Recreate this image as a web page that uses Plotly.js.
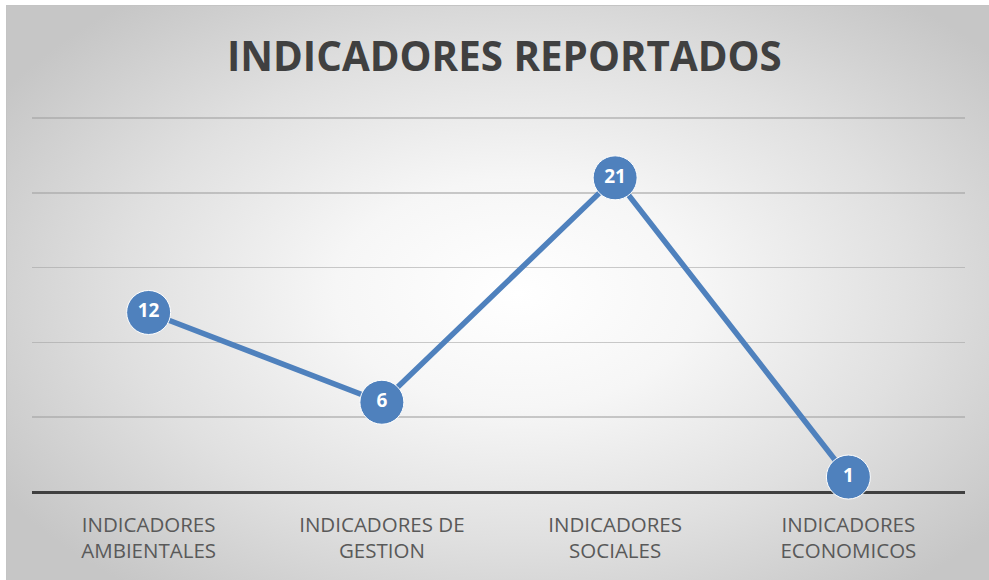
<!DOCTYPE html>
<html>
<head>
<meta charset="utf-8">
<script src="https://cdn.plot.ly/plotly-3.0.1.min.js"></script>
<style>
  html, body { margin: 0; padding: 0; background: #ffffff; }
  #wrap { position: absolute; left: 0; top: 0; width: 989px; height: 580px; background: #ffffff; }
  #bg { position: absolute; left: 6px; top: 5px; width: 983px; height: 575px;
        border-top: 1.5px solid #c4c4c4; border-left: 1.5px solid #c4c4c4;
        background: radial-gradient(ellipse 62% 66% at 52% 50%, #ffffff 0%, #f6f6f6 30%, #e0e0e0 65%, #c6c6c6 100%); }
  #chart { position: absolute; left: 0; top: 0; width: 989px; height: 580px; }
</style>
</head>
<body>
<div id="wrap">
  <div id="bg"></div>
  <div id="chart"></div>
</div>
<script>
const categories = ["INDICADORES<br>AMBIENTALES", "INDICADORES DE<br>GESTION", "INDICADORES<br>SOCIALES", "INDICADORES<br>ECONOMICOS"];
const values = [12, 6, 21, 1];
const gridValues = [0, 5, 10, 15, 20, 25];
const chartTitle = "INDICADORES REPORTADOS";

const trace = {
  type: "scatter",
  mode: "lines+markers+text",
  x: categories,
  y: values,
  text: values.map(String),
  textposition: "middle center",
  textfont: { family: "Open Sans, sans-serif", size: 19, color: "#ffffff", weight: 700 },
  line: { color: "#4f81bd", width: 5.5 },
  marker: { color: "#4f81bd", size: 44, line: { color: "#ffffff", width: 1 } },
  cliponaxis: false,
  hoverinfo: "skip"
};

const layout = {
  width: 989,
  height: 580,
  paper_bgcolor: "rgba(0,0,0,0)",
  plot_bgcolor: "rgba(0,0,0,0)",
  margin: { l: 32, r: 24, t: 113, b: 88 },
  showlegend: false,
  title: {
    text: "<b>" + chartTitle + "</b>",
    font: { family: "Open Sans, sans-serif", size: 40.3, color: "#404040" },
    x: 0.51, xanchor: "center",
    y: 0.902, yanchor: "middle"
  },
  xaxis: {
    type: "category",
    range: [-0.5, 3.5],
    showgrid: false,
    zeroline: false,
    showline: false,
    ticks: "",
    ticklabelstandoff: 18,
    tickfont: { family: "Open Sans, sans-serif", size: 20.5, color: "#595959" },
    fixedrange: true
  },
  yaxis: {
    range: [0, 25.334],
    tickvals: gridValues,
    showticklabels: false,
    showgrid: true,
    gridcolor: "rgba(160,160,160,0.55)",
    gridwidth: 1.5,
    zeroline: true,
    zerolinecolor: "#404040",
    zerolinewidth: 3,
    showline: false,
    fixedrange: true
  }
};

Plotly.newPlot("chart", [trace], layout, { displayModeBar: false, staticPlot: true });
</script>
</body>
</html>
